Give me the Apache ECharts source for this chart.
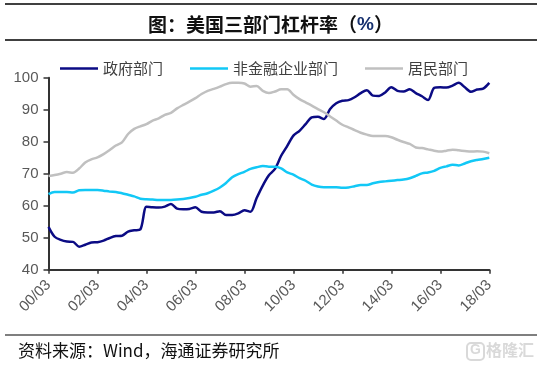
<!DOCTYPE html>
<html>
<head>
<meta charset="utf-8">
<script src="https://cdn.jsdelivr.net/npm/echarts@6/dist/echarts.min.js"></script>
<style>
html,body{margin:0;padding:0;background:#fff;}
#main{width:541px;height:367px;}
</style>
</head>
<body>
<div id="main"></div>
<script>
// Quarterly categories 2000Q1 (00/03) .. 2018Q1 (18/03)
var categories = [];
for (var y = 0; y <= 18; y++) {
  var months = ['03', '06', '09', '12'];
  for (var q = 0; q < 4; q++) {
    if (y === 18 && q > 0) break;
    categories.push((y < 10 ? '0' + y : '' + y) + '/' + months[q]);
  }
}

var seriesNames = ['政府部门', '非金融企业部门', '居民部门'];

var government = [
  53.4, 50.3, 49.3, 48.8, 48.7, 47.2, 47.8, 48.5, 48.6, 49.1,
  49.9, 50.5, 50.6, 51.9, 52.3, 52.6, 59.7, 59.5, 59.4, 59.7,
  60.5, 59.1, 58.9, 59.0, 59.5, 58.1, 57.9, 57.9, 58.3, 57.1,
  57.1, 57.6, 58.6, 58.1, 62.4, 66.3, 69.5, 71.5, 75.6, 78.7,
  81.9, 83.4, 85.5, 87.6, 87.8, 87.1, 90.2, 92.0, 92.8, 93.0,
  93.9, 95.2, 96.1, 94.4, 94.3, 95.4, 97.0, 95.9, 95.7, 96.4,
  95.2, 94.2, 93.0, 96.8, 97.0, 96.9, 97.5, 98.4, 97.0, 95.6,
  96.3, 96.6, 98.4
];

var corporate = [
  63.6, 64.3, 64.3, 64.3, 64.1, 64.8, 64.9, 64.9, 64.9, 64.7,
  64.4, 64.3, 63.9, 63.4, 62.9, 62.2, 62.0, 61.9, 61.8, 61.8,
  61.8, 61.9, 62.1, 62.4, 62.8, 63.4, 63.9, 64.7, 65.7, 67.1,
  68.9, 69.9, 70.6, 71.5, 72.0, 72.4, 72.2, 72.2, 71.7, 70.4,
  69.7, 68.6, 67.8, 66.6, 66.0, 65.8, 65.8, 65.8, 65.6, 65.7,
  66.1, 66.5, 66.5, 67.0, 67.4, 67.6, 67.8, 68.0, 68.2, 68.6,
  69.3, 70.1, 70.4, 70.9, 71.8, 72.3, 72.8, 72.6, 73.2, 73.9,
  74.3, 74.6, 75.0
];

var household = [
  69.3, 69.6, 70.0, 70.5, 70.3, 71.6, 73.5, 74.5, 75.1, 76.1,
  77.4, 78.8, 79.8, 82.4, 84.0, 84.8, 85.5, 86.6, 87.3, 88.4,
  89.0, 90.4, 91.5, 92.5, 93.6, 94.9, 95.9, 96.5, 97.2, 98.0,
  98.4, 98.4, 98.2, 97.2, 97.4, 95.9, 95.2, 95.7, 96.4, 96.4,
  94.7, 93.3, 92.3, 91.3, 90.2, 89.2, 87.9, 86.6, 85.3, 84.5,
  83.6, 82.8, 82.2, 81.8, 81.8, 81.8, 81.4, 80.6, 79.9, 79.3,
  78.2, 78.0, 77.6, 77.2, 76.9, 77.2, 77.5, 77.3, 77.1, 76.9,
  77.0, 76.9, 76.4
];

var colors = ['#0B0B84', '#12C8F6', '#C0C0C0'];

var chart = echarts.init(document.getElementById('main'), null, {renderer: 'canvas'});

var cjk = '"Noto Sans CJK SC", "Noto Sans", sans-serif';

function mkSeries(name, data, color) {
  return {
    name: name,
    type: 'line',
    data: data,
    symbol: 'none',
    smooth: 0.3,
    lineStyle: {color: color, width: 2.5},
    itemStyle: {color: color}
  };
}

chart.setOption({
  animation: false,
  backgroundColor: '#fff',
  title: {
    text: '{a|图：美国三部门杠杆率（}{b|%}{a|）}',
    left: 'center',
    top: 10,
    textStyle: {
      rich: {
        a: {fontFamily: cjk, fontSize: 19, fontWeight: 'bold', color: '#111'},
        b: {fontFamily: 'Arial, "Liberation Sans", sans-serif', fontSize: 19, fontWeight: 'bold', color: '#16306e'}
      }
    }
  },
  legend: {
    left: 55,
    top: 56,
    icon: 'rect',
    itemWidth: 38,
    itemHeight: 2.5,
    itemGap: 27,
    data: seriesNames,
    textStyle: {fontFamily: cjk, fontSize: 15, color: '#404040'}
  },
  grid: {left: 48.5, right: 51.7, top: 77.7, bottom: 97.3, containLabel: false},
  xAxis: {
    type: 'category',
    data: categories,
    boundaryGap: false,
    axisLine: {lineStyle: {color: '#333', width: 2}},
    axisTick: {show: true, interval: 7, length: 4, lineStyle: {color: '#333', width: 1.5}},
    axisLabel: {
      interval: 7,
      rotate: 45,
      margin: 13,
      fontSize: 15,
      fontFamily: 'Arial, "Liberation Sans", sans-serif',
      color: '#595959'
    },
    splitLine: {show: false}
  },
  yAxis: {
    type: 'value',
    min: 40,
    max: 100,
    interval: 10,
    axisLine: {show: true, lineStyle: {color: '#333', width: 2}},
    axisTick: {show: true, length: 5, lineStyle: {color: '#333', width: 1.5}},
    axisLabel: {
      margin: 10,
      fontSize: 15,
      fontFamily: 'Arial, "Liberation Sans", sans-serif',
      color: '#595959'
    },
    splitLine: {show: false}
  },
  series: [
    mkSeries(seriesNames[0], government, colors[0]),
    mkSeries(seriesNames[1], corporate, colors[1]),
    mkSeries(seriesNames[2], household, colors[2])
  ],
  graphic: [
    {type: 'line', shape: {x1: 5, y1: 4, x2: 537, y2: 4}, style: {stroke: '#000', lineWidth: 1.5}},
    {type: 'line', shape: {x1: 5, y1: 40, x2: 537, y2: 40}, style: {stroke: '#000', lineWidth: 1.5}},
    {type: 'line', shape: {x1: 5, y1: 335, x2: 537, y2: 335}, style: {stroke: '#000', lineWidth: 1.2}},
    {type: 'text', left: 18, top: 342, style: {text: '资料来源：Wind，海通证券研究所', font: '17px ' + cjk, fill: '#111'}},
    {type: 'rect', shape: {x: 467, y: 343, width: 17, height: 17, r: 4}, style: {stroke: '#d9d9d9', fill: 'none', lineWidth: 2}},
    {type: 'text', left: 470, top: 343, style: {text: 'G', font: 'bold 14px Arial', fill: '#d9d9d9'}},
    {type: 'text', left: 486, top: 342, style: {text: '格隆汇', font: 'bold 16px ' + cjk, fill: '#d9d9d9'}}
  ]
});
</script>
</body>
</html>
